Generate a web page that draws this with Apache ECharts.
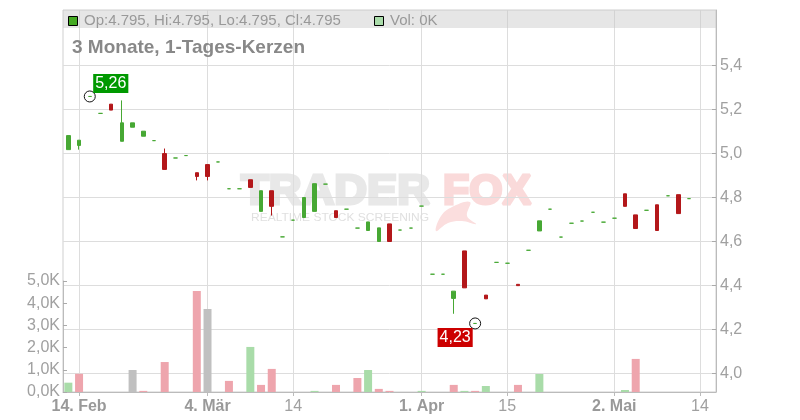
<!DOCTYPE html>
<html><head><meta charset="utf-8">
<script src="https://cdn.jsdelivr.net/npm/echarts@6/dist/echarts.min.js"></script>
<style>html,body{margin:0;padding:0;background:#fff}#c{width:800px;height:420px}</style>
</head><body><div id="c"></div>
<script>
const dates = ['13.02.','14.02.','17.02.','18.02.','19.02.','20.02.','21.02.','24.02.','25.02.','26.02.','27.02.','28.02.',
'03.03.','04.03.','05.03.','06.03.','07.03.','10.03.','11.03.','12.03.','13.03.','14.03.','17.03.','18.03.','19.03.','20.03.','21.03.','24.03.','25.03.','26.03.','27.03.','28.03.','31.03.',
'01.04.','02.04.','03.04.','04.04.','07.04.','08.04.','09.04.','10.04.','15.04.','16.04.','17.04.','22.04.','23.04.','24.04.','25.04.','28.04.','29.04.','30.04.',
'02.05.','05.05.','06.05.','07.05.','08.05.','09.05.','12.05.','13.05.','14.05.','15.05.'];
const opens  = [5.018,5.037,5.26,5.183,5.225,5.056,5.12,5.079,5.059,5.0,4.98,4.991,4.913,4.95,4.962,4.84,4.84,4.881,4.737,4.831,4.621,4.697,4.709,4.737,4.861,4.74,4.747,4.661,4.65,4.6,4.68,4.652,4.661,4.761,4.451,4.451,4.341,4.557,4.227,4.356,4.505,4.501,4.405,4.56,4.648,4.747,4.62,4.683,4.693,4.733,4.688,4.706,4.817,4.721,4.742,4.767,4.808,4.813,4.795];
const closes = [5.082,5.061,5.26,5.183,5.198,5.14,5.14,5.102,5.059,4.928,4.98,4.991,4.896,4.896,4.962,4.84,4.84,4.846,4.831,4.76,4.621,4.697,4.8,4.863,4.861,4.709,4.747,4.661,4.689,4.662,4.6,4.652,4.661,4.761,4.451,4.451,4.374,4.389,4.227,4.339,4.505,4.501,4.399,4.56,4.694,4.747,4.62,4.683,4.693,4.733,4.688,4.706,4.76,4.659,4.742,4.65,4.808,4.727,4.795];
const lows   = [5.018,5.018,5.26,5.183,5.198,5.056,5.12,5.079,5.059,4.928,4.98,4.991,4.878,4.878,4.962,4.84,4.84,4.846,4.737,4.718,4.621,4.697,4.709,4.737,4.861,4.709,4.747,4.661,4.65,4.6,4.6,4.652,4.661,4.761,4.451,4.451,4.271,4.389,4.227,4.339,4.505,4.501,4.399,4.56,4.648,4.747,4.62,4.683,4.693,4.733,4.688,4.706,4.76,4.659,4.742,4.65,4.808,4.727,4.795];
const highs  = [5.082,5.061,5.26,5.183,5.225,5.242,5.14,5.102,5.059,5.023,4.98,4.991,4.913,4.95,4.962,4.84,4.84,4.881,4.831,4.831,4.621,4.697,4.8,4.863,4.861,4.74,4.747,4.661,4.689,4.662,4.68,4.652,4.661,4.761,4.451,4.451,4.374,4.557,4.227,4.356,4.505,4.501,4.405,4.56,4.694,4.747,4.62,4.683,4.693,4.733,4.688,4.706,4.817,4.721,4.742,4.767,4.808,4.813,4.795];
const volumesK = [0.42,0.82,0,0,0,0,0.99,0.05,0,1.35,0,0,4.55,3.74,0,0.5,0,2.03,0.32,1.04,0,0,0,0.05,0,0.32,0,0.63,0.99,0.14,0.05,0,0,0.05,0,0,0.32,0.05,0.05,0.27,0,0,0.32,0,0.81,0,0,0,0,0,0,0,0.09,1.49,0,0,0,0,0];
const tickLabels = {'14.02.':'14. Feb','04.03.':'4. Mär','14.03.':'14','01.04.':'1. Apr','15.04.':'15','02.05.':'2. Mai','14.05.':'14'};
const priceTicks = [4.0,4.2,4.4,4.6,4.8,5.0,5.2,5.4];
const legendText = 'Op:4.795, Hi:4.795, Lo:4.795, Cl:4.795';
const volLegendText = 'Vol: 0K';
const titleText = '3 Monate, 1-Tages-Kerzen';

const FONT = '"Liberation Sans", Arial, sans-serif';
const UP = '#47a834', DOWN = '#b3171a';
const VUP = '#a9dca9', VDOWN = '#eea5ad', VFLAT = '#c0c0c0';

const candleData = opens.map((o, i) => {
  const item = { value: [o, closes[i], lows[i], highs[i]] };
  if (o === closes[i]) item.itemStyle = { color: UP, borderColor: UP, color0: UP, borderColor0: UP };
  return item;
});
const volData = volumesK.map((v, i) => {
  let c = VUP;
  if (i > 0) {
    if (closes[i] < closes[i - 1]) c = VDOWN;
    else if (closes[i] === closes[i - 1]) c = VFLAT;
  }
  return { value: v, itemStyle: { color: c } };
});
let hiIdx = 0, loIdx = 0;
highs.forEach((h, i) => { if (h > highs[hiIdx]) hiIdx = i; });
lows.forEach((l, i) => { if (l < lows[loIdx]) loIdx = i; });
const fmt2 = v => v.toFixed(2).replace('.', ',');
const showTick = (idx, val) => !!tickLabels[val];

const chart = echarts.init(document.getElementById('c'), null, { renderer: 'canvas' });
chart.setOption({
  animation: false,
  textStyle: { fontFamily: FONT },
  grid: [
    { left: 63, right: 84, top: 10, bottom: 28, show: true, borderColor: '#cfcfcf', borderWidth: 1, backgroundColor: 'transparent' },
    { left: 63, right: 84, top: 281, bottom: 28 }
  ],
  xAxis: [
    {
      type: 'category', gridIndex: 0, data: dates, boundaryGap: true,
      axisLine: { show: true, lineStyle: { color: '#bbbbbb' } },
      axisTick: { show: true, alignWithLabel: true, interval: showTick, length: 4, lineStyle: { color: '#bbbbbb' } },
      splitLine: { show: true, alignWithLabel: true, interval: showTick, lineStyle: { color: '#dddddd', width: 1 } },
      axisLabel: {
        interval: showTick, margin: 7, color: '#999', fontSize: 16, fontFamily: FONT,
        formatter: v => { const t = tickLabels[v] || ''; return t.indexOf('.') >= 0 ? '{b|' + t + '}' : '{n|' + t + '}'; },
        rich: { b: { fontWeight: 'bold', fontSize: 16, color: '#999', fontFamily: FONT }, n: { fontSize: 16, color: '#a0a0a0', fontFamily: FONT } }
      }
    },
    { type: 'category', gridIndex: 1, data: dates, boundaryGap: true, show: false }
  ],
  yAxis: [
    {
      type: 'value', gridIndex: 0, position: 'right', min: 3.915, max: 5.6535, splitNumber: 8, scale: true,
      axisLine: { show: true, lineStyle: { color: '#bbbbbb' } },
      axisTick: { show: true, inside: true, length: 4, lineStyle: { color: '#aaaaaa' }, customValues: priceTicks },
      splitLine: { show: true, lineStyle: { color: '#dddddd', width: 1 } },
      axisLabel: { margin: 4, color: '#a0a0a0', fontSize: 16, fontFamily: FONT, padding: [3, 0, 0, 0],
        customValues: priceTicks,
        formatter: v => v.toFixed(1).replace('.', ',') }
    },
    {
      type: 'value', gridIndex: 1, position: 'left', min: 0, max: 5, interval: 1,
      axisLine: { show: true, lineStyle: { color: '#bbbbbb' } },
      axisTick: { show: true, inside: true, length: 4, lineStyle: { color: '#aaaaaa' } },
      splitLine: { show: false },
      axisLabel: { margin: 3, color: '#a0a0a0', fontSize: 16, fontFamily: FONT, formatter: v => v.toFixed(1).replace('.', ',') + 'K' }
    }
  ],
  series: [
    {
      type: 'bar', xAxisIndex: 1, yAxisIndex: 1, data: volData, barWidth: 8, silent: true, z: 2
    },
    {
      type: 'candlestick', xAxisIndex: 0, yAxisIndex: 0, data: candleData, barWidth: 4, z: 3,
      itemStyle: { color: UP, color0: DOWN, borderColor: UP, borderColor0: DOWN, borderWidth: 1 },
      markPoint: {
        silent: true, animation: false,
        data: [
          { coord: [dates[hiIdx], highs[hiIdx]], symbol: 'circle', symbolSize: 11,
            itemStyle: { color: 'rgba(0,0,0,0)', borderColor: '#111', borderWidth: 1 }, label: { show: false } },
          { coord: [dates[hiIdx], highs[hiIdx]], symbol: 'rect', symbolSize: 1, itemStyle: { color: 'rgba(0,0,0,0)' },
            label: { show: true, position: 'inside', offset: [21, -13], formatter: fmt2(highs[hiIdx]),
              backgroundColor: '#009900', color: '#fff', fontSize: 16, fontFamily: FONT, padding: [1, 2, 0, 2], lineHeight: 18 } },
          { coord: [dates[loIdx], lows[loIdx]], symbol: 'circle', symbolSize: 11,
            itemStyle: { color: 'rgba(0,0,0,0)', borderColor: '#111', borderWidth: 1 }, label: { show: false } },
          { coord: [dates[loIdx], lows[loIdx]], symbol: 'rect', symbolSize: 1, itemStyle: { color: 'rgba(0,0,0,0)' },
            label: { show: true, position: 'inside', offset: [-20, 14], formatter: fmt2(lows[loIdx]),
              backgroundColor: '#cc0000', color: '#fff', fontSize: 16, fontFamily: FONT, padding: [1, 2, 0, 2], lineHeight: 18 } }
        ]
      }
    }
  ],
  graphic: [
    { type: 'text', z: -10, x: 241, y: 192, scaleX: 1.08, style: { text: 'TRADER', font: 'bold 42px ' + FONT, fill: '#e8e8e8', stroke: '#e8e8e8', lineWidth: 3, textVerticalAlign: 'middle' } },
    { type: 'text', z: -10, x: 443, y: 192, scaleX: 1.02, style: { text: 'FOX', font: 'bold 42px ' + FONT, fill: '#fadada', stroke: '#fadada', lineWidth: 3, textVerticalAlign: 'middle' } },
    { type: 'polygon', z: -10, shape: { points: [[470,202],[452,207],[441,216],[436,231],[448,223],[462,221],[476,224],[467,216]], smooth: 0.4 }, style: { fill: '#fbdede' } },
    { type: 'text', z: -10, x: 251, y: 218, scaleX: 1.09, style: { text: 'REALTIME STOCK SCREENING', font: '11px ' + FONT, fill: '#e0e0e0', textVerticalAlign: 'middle' } },
    { type: 'rect', z: 10, shape: { x: 63, y: 10, width: 653, height: 18 }, style: { fill: 'rgba(200,200,200,0.45)' } },
    { type: 'rect', z: 11, shape: { x: 68.5, y: 16.5, width: 9, height: 9 }, style: { fill: '#44aa22', stroke: '#000', lineWidth: 1 } },
    { type: 'text', z: 11, x: 84, y: 20.5, style: { text: legendText, font: '15px ' + FONT, fill: '#999', textVerticalAlign: 'middle' } },
    { type: 'rect', z: 11, shape: { x: 374.5, y: 16.5, width: 9, height: 9 }, style: { fill: '#aadcaa', stroke: '#000', lineWidth: 1 } },
    { type: 'text', z: 11, x: 390, y: 20.5, style: { text: volLegendText, font: '15px ' + FONT, fill: '#999', textVerticalAlign: 'middle' } },
    { type: 'text', z: 11, x: 72, y: 48, style: { text: titleText, font: 'bold 19px ' + FONT, fill: '#888', textVerticalAlign: 'middle' } }
  ]
});
</script></body></html>
